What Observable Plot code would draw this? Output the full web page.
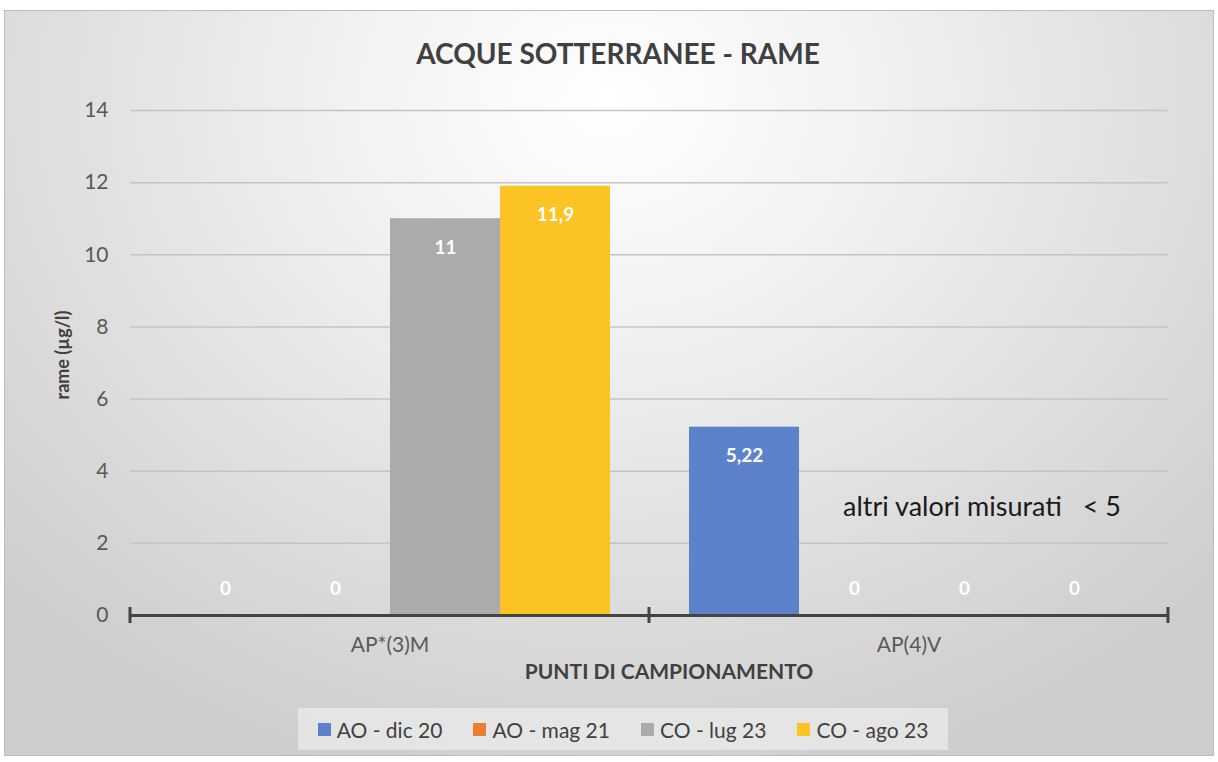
<!DOCTYPE html>
<html>
<head>
<meta charset="utf-8">
<script src="https://cdn.jsdelivr.net/npm/d3@7"></script>
<script src="https://cdn.jsdelivr.net/npm/@observablehq/plot@0.6"></script>
<style>
  html, body { margin: 0; padding: 0; background: #ffffff; }
  #wrap { position: relative; width: 1218px; height: 762px; overflow: hidden; font-family: Lato, "Open Sans", sans-serif; }
  #bg { position: absolute; left: 4px; top: 10px; width: 1208px; height: 744px;
        border: 1px solid #bdbdbd;
        background: radial-gradient(ellipse 70% 95% at 50% 12%, #ffffff 0%, #f2f2f2 30%, #e2e2e2 60%, #cdcdcd 100%); }
  #chart { position: absolute; left: 0; top: 0; }
  #title { position: absolute; left: 0; width: 1236px; top: 36px; text-align: center; font-size: 28px; font-weight: 700; color: #404040; }
  #ylabel { position: absolute; left: 62px; top: 355px; transform: translate(-50%, -50%) rotate(-90deg); font-size: 18px; font-weight: 700; color: #404040; white-space: nowrap; }
  #xlabel { position: absolute; left: 669px; top: 670px; transform: translate(-50%, -50%); font-size: 21px; font-weight: 700; color: #404040; white-space: nowrap; }
  #note { position: absolute; left: 843px; top: 505px; transform: translateY(-50%); font-size: 27px; color: #1a1a1a; white-space: pre; }
  #legend { position: absolute; left: 298px; top: 708px; width: 650px; height: 42px; background: rgba(235,235,235,0.75);
            display: flex; align-items: center; justify-content: center; gap: 31px; font-size: 21px; color: #404040; }
  .item { display: flex; align-items: center; gap: 6px; white-space: nowrap; }
  .sw { width: 13px; height: 13px; display: inline-block; }
</style>
</head>
<body>
<div id="wrap">
  <div id="bg"></div>
  <div id="chart"></div>
  <div id="title"></div>
  <div id="ylabel"></div>
  <div id="xlabel"></div>
  <div id="note"></div>
  <div id="legend"></div>
</div>
<script>
// ---- data ----
const titleText = "ACQUE SOTTERRANEE - RAME";
const yLabel = "rame (µg/l)";
const xLabel = "PUNTI DI CAMPIONAMENTO";
const noteText = "altri valori misurati   < 5";
const points = ["AP*(3)M", "AP(4)V"];
const seriesNames = ["AO - dic 20", "AO - mag 21", "CO - lug 23", "CO - ago 23"];
const seriesColors = ["#5B82CB", "#ED7D31", "#ABABAB", "#FBC323"];
const valuesAP3M = [0, 0, 11, 11.9];
const valuesAP4V = [5.22, 0, 0, 0];
const yTicks = [0, 2, 4, 6, 8, 10, 12, 14];

const valueRows = [valuesAP3M, valuesAP4V];
const data = points.flatMap((p, i) => seriesNames.map((s, j) => ({point: p, series: s, value: valueRows[i][j]})));
const fmt = v => String(v).replace(".", ",");

document.getElementById("title").textContent = titleText;
document.getElementById("ylabel").textContent = yLabel;
document.getElementById("xlabel").textContent = xLabel;
document.getElementById("note").textContent = noteText;
const leg = document.getElementById("legend");
seriesNames.forEach((s, i) => {
  const it = document.createElement("div"); it.className = "item";
  const sw = document.createElement("span"); sw.className = "sw"; sw.style.background = seriesColors[i];
  const tx = document.createElement("span"); tx.textContent = s;
  it.appendChild(sw); it.appendChild(tx); leg.appendChild(it);
});

const chart = Plot.plot({
  width: 1218, height: 762,
  marginLeft: 130, marginRight: 50, marginTop: 110, marginBottom: 147,
  style: {background: "transparent", fontFamily: "Lato, 'Open Sans', sans-serif", overflow: "visible"},
  fx: {domain: points, padding: 0, label: null},
  x: {domain: seriesNames, paddingInner: 0, paddingOuter: 0.34, axis: null},
  y: {domain: [0, 14], label: null},
  color: {domain: seriesNames, range: seriesColors},
  marks: [
    Plot.ruleY(yTicks.filter(t => t > 0), {stroke: "#c4c4c4", strokeWidth: 1.5}),
    Plot.axisY(yTicks, {tickSize: 0, tickPadding: 22, fontSize: 21, fill: "#595959", label: null}),
    Plot.axisFx({anchor: "bottom", tickSize: 0, tickPadding: 22, fontSize: 21, fill: "#595959", label: null}),
    Plot.barY(data, {fx: "point", x: "series", y: "value", fill: "series"}),
    Plot.ruleY([0], {stroke: "#444444", strokeWidth: 3}),
    Plot.text(data.filter(d => d.value > 0), {fx: "point", x: "series", y: "value", text: d => fmt(d.value), dy: 29, fill: "white", fontWeight: "bold", fontSize: 19}),
    Plot.text(data.filter(d => d.value === 0), {fx: "point", x: "series", y: "value", text: d => fmt(d.value), dy: -27, fill: "white", fontWeight: "bold", fontSize: 19})
  ]
});
document.getElementById("chart").appendChild(chart);

// tick marks at the group boundaries of the category axis, positioned with the plot's own scales
const fxS = chart.scale("fx"), yS = chart.scale("y");
const edges = points.map(p => fxS.apply(p)).concat([fxS.apply(points[points.length - 1]) + fxS.bandwidth]);
const y0 = yS.apply(0);
d3.select(chart).append("g").selectAll("line").data(edges).join("line")
  .attr("x1", d => d).attr("x2", d => d)
  .attr("y1", y0 - 8).attr("y2", y0 + 8)
  .attr("stroke", "#444444").attr("stroke-width", 3);
</script>
</body>
</html>
